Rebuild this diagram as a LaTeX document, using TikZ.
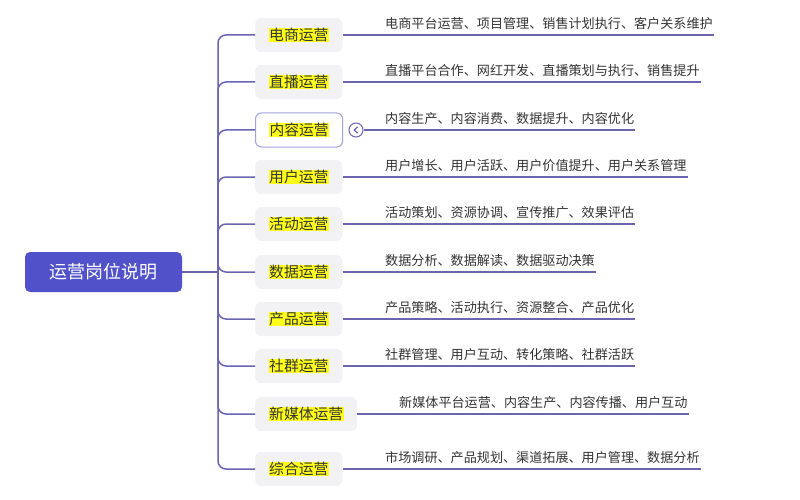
\documentclass[tikz,border=0pt]{standalone}
\usepackage{fontspec}
\setmainfont{Noto Sans CJK SC}
\usetikzlibrary{positioning}

\definecolor{rootblue}{HTML}{5151C9}
\definecolor{linepurple}{HTML}{6A65AE}
\definecolor{boxgray}{HTML}{F2F2F5}
\definecolor{hilite}{HTML}{FFFF1A}
\definecolor{textgray}{HTML}{333333}
\definecolor{foldpurple}{HTML}{A3A0DA}

\newcommand{\hl}[1]{{\setlength{\fboxsep}{0.5pt}\colorbox{hilite}{#1}}}

\begin{document}
\begin{tikzpicture}[
  x=1pt, y=-1pt,
  root/.style={rectangle, rounded corners=5pt, fill=rootblue, text=white, minimum width=157pt, minimum height=40pt, font=\fontsize{18}{20}\selectfont},
  cat/.style={rectangle, rounded corners=6pt, fill=boxgray, minimum height=34pt, inner xsep=13.5pt, anchor=west, text=textgray, font=\fontsize{14.8}{17}\selectfont},
  catsel/.style={cat, fill=white, draw=foldpurple, line width=1pt},
  desc/.style={anchor=south west, inner xsep=1pt, inner ysep=5pt, text=textgray, font=\fontsize{13.1}{15}\selectfont},
  fold/.style={circle, draw=linepurple, fill=white, line width=1pt, minimum size=14pt, inner sep=0pt},
  branch/.style={draw=linepurple, line width=1.5pt, rounded corners=8pt},
  link/.style={draw=linepurple, line width=1.5pt}
]
\useasboundingbox (0,0) rectangle (800,500);

% Root
\node[root] (root) at (103.5,272) {运营岗位说明};
\coordinate (hub) at (218,272);

% Categories
\node[cat] (ecom) at (255,35) {\hl{电商运营}};
\node[cat] (live) at (255,82) {\hl{直播运营}};
\node[catsel] (content) at (255,130) {\hl{内容运营}};
\node[cat] (user) at (255,177) {\hl{用户运营}};
\node[cat] (event) at (255,224) {\hl{活动运营}};
\node[cat] (data) at (255,272) {\hl{数据运营}};
\node[cat] (product) at (255,319) {\hl{产品运营}};
\node[cat] (community) at (255,366) {\hl{社群运营}};
\node[cat] (newmedia) at (255,414) {\hl{新媒体运营}};
\node[cat] (general) at (255,469) {\hl{综合运营}};

% Fold button on the selected category
\node[fold] (fold) at (356,130) {};
\draw[linepurple, line width=1.2pt, line cap=round, line join=round] ([xshift=1.5pt,yshift=3pt]fold.center) -- ([xshift=-1.8pt]fold.center) -- ([xshift=1.5pt,yshift=-3pt]fold.center);

% Descriptions
\node[desc] (ecom-desc) at (384,35) {电商平台运营、项目管理、销售计划执行、客户关系维护};
\node[desc] (live-desc) at (384,82) {直播平台合作、网红开发、直播策划与执行、销售提升};
\node[desc] (content-desc) at (384,130) {内容生产、内容消费、数据提升、内容优化};
\node[desc] (user-desc) at (384,177) {用户增长、用户活跃、用户价值提升、用户关系管理};
\node[desc] (event-desc) at (384,224) {活动策划、资源协调、宣传推广、效果评估};
\node[desc] (data-desc) at (384,272) {数据分析、数据解读、数据驱动决策};
\node[desc] (product-desc) at (384,319) {产品策略、活动执行、资源整合、产品优化};
\node[desc] (community-desc) at (384,366) {社群管理、用户互动、转化策略、社群活跃};
\node[desc] (newmedia-desc) at (398,414) {新媒体平台运营、内容生产、内容传播、用户互动};
\node[desc] (general-desc) at (384,469) {市场调研、产品规划、渠道拓展、用户管理、数据分析};

% Root to trunk
\draw[link] (root) -- (hub);

% Trunk to categories
\draw[branch] (hub) |- (ecom);
\draw[branch] (hub) |- (live);
\draw[branch] (hub) |- (content);
\draw[branch] (hub) |- (user);
\draw[branch] (hub) |- (event);
\draw[branch] (hub) |- (data);
\draw[branch] (hub) |- (product);
\draw[branch] (hub) |- (community);
\draw[branch] (hub) |- (newmedia);
\draw[branch] (hub) |- (general);

% Categories to descriptions
\draw[link] (ecom) -- (ecom-desc.south east);
\draw[link] (live) -- (live-desc.south east);
\draw[link] (fold) -- (content-desc.south east);
\draw[link] (user) -- (user-desc.south east);
\draw[link] (event) -- (event-desc.south east);
\draw[link] (data) -- (data-desc.south east);
\draw[link] (product) -- (product-desc.south east);
\draw[link] (community) -- (community-desc.south east);
\draw[link] (newmedia) -- (newmedia-desc.south east);
\draw[link] (general) -- (general-desc.south east);

\end{tikzpicture}
\end{document}
